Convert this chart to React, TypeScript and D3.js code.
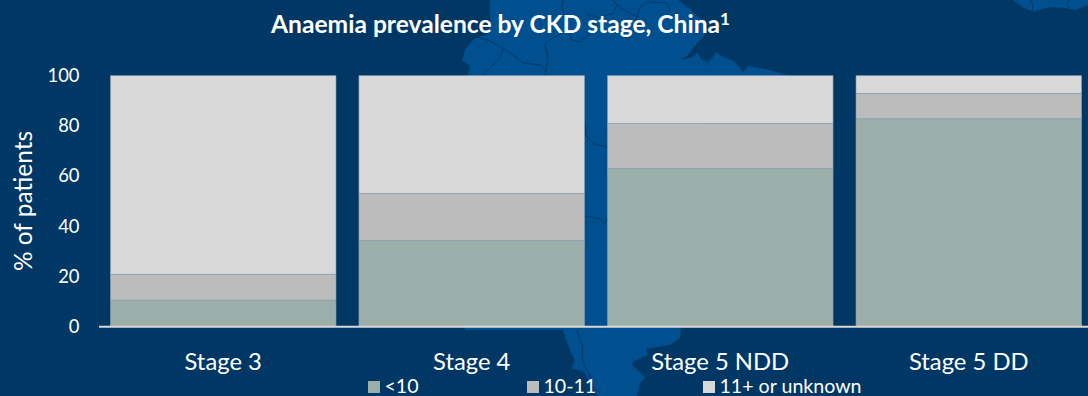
import React from "react";
import * as d3 from "d3";

const categories = ["Stage 3", "Stage 4", "Stage 5 NDD", "Stage 5 DD"];
const seriesNames = ["<10", "10-11", "11+ or unknown"];
const under10 = [10.5, 34.3, 63, 82.8];
const from10to11 = [10.3, 18.7, 18, 10.2];
const over11 = [79.2, 47, 19, 7];
const yTicks = [0, 20, 40, 60, 80, 100];
const colors = ["#9CAEA9", "#BCBCBC", "#D8D8D8"];
const legendX = [368, 527, 703];

const WIDTH = 1088;
const HEIGHT = 396;
const FONT = "Lato, 'Noto Sans', sans-serif";

// Decorative map of the region behind the plot
const LAND = [
  "M490,0 L490,20 L488,34 L476,38 L470,43 L465,50 L462,60 L470,66 L469,72 L465,80 L465,330 L563,330",
  "L566,340 L570,350 L575,360 L572,368 L584,372 L590,382 L597,396 L637,396 L640,383 L645,378 L640,372 L632,365",
  "L634,361 L648,355 L646,349 L652,348 L670,345 L680,338 L681,326 L700,300 L700,76 L790,76 L770,70 L748,66",
  "L743,72 L735,62 L720,55 L712,49 L700,50 L703,37 L708,30 L700,18 L690,9 L678,0 Z",
].join(" ");
const BAY = "M703,37 L695,46 L688,55 L681,60 L692,57 L698,53 L702,60 L708,62 L704,68 L712,58 L716,52 L712,49 L700,50 Z";
const LAND_NE = "M1013,0 L1022,7 L1033,12 L1042,9 L1052,7 L1066,8 L1075,10 L1088,5 L1088,0 Z";
const BORDERS = [
  "M477,37 L490,41 L503,48 L510,53 L517,58 L523,63 L533,64 L540,65 L546,70 L545,76",
  "M503,48 L500,58 L490,68 L482,75",
  "M546,70 L548,58 L545,44 L553,38 L567,30",
  "M563,0 L562,7 L565,17 L567,30 L572,40 L580,42 L588,35 L597,28 L587,14 L600,18 L613,13 L617,5 L613,0",
  "M617,5 L625,10 L637,17 L640,7 L647,2 L667,3 L670,10",
  "M637,17 L635,28 L630,37 L623,37",
  "M585,122 L586,135 L590,140 L593,143 L597,145 L605,146 L607,148",
  "M585,218 L587,216 L600,219 L603,222 L605,224 L607,217",
  "M577,330 L580,340 L583,347 L582,357 L585,367 L590,375 L593,387 L600,393",
  "M1032,12 L1033,5 L1030,0",
  "M1069,8 L1067,3 L1069,0",
];

export default function App() {
  const x = d3.scaleBand<string>().domain(categories).range([99, 1093]).paddingInner(0.0925).paddingOuter(0.046);
  const y = d3.scaleLinear().domain([0, 100]).range([326.3, 75.7]);
  const rows = categories.map((c, i) => ({ c, s0: under10[i], s1: from10to11[i], s2: over11[i] }));
  const stacked = d3.stack<any>().keys(["s0", "s1", "s2"])(rows);

  return (
    <svg
      width={WIDTH}
      height={HEIGHT}
      viewBox={`0 0 ${WIDTH} ${HEIGHT}`}
      style={{ position: "absolute", left: 0, top: 0, display: "block" }}
      fontFamily={FONT}
    >
      <rect width={WIDTH} height={HEIGHT} fill="#003764" />
      <g>
        <path d={LAND} fill="#00508F" />
        <path d={BAY} fill="#003764" />
        <path d={LAND_NE} fill="#00508F" />
        {BORDERS.map((d, i) => (
          <path key={i} d={d} fill="none" stroke="#003764" strokeWidth={1} />
        ))}
      </g>

      <text x={500.5} y={33} textAnchor="middle" fill="#fff" fontSize={24.6} fontWeight={700}>
        Anaemia prevalence by CKD stage, China
        <tspan fontSize={17} dy={-8}>1</tspan>
      </text>

      {stacked.map((layer, li) =>
        layer.map((d, i) => (
          <rect
            key={`${li}-${i}`}
            x={x(categories[i])}
            y={y(d[1])}
            width={x.bandwidth()}
            height={y(d[0]) - y(d[1])}
            fill={colors[li]}
            stroke="#8CA0B3"
            strokeWidth={0.6}
          />
        )),
      )}

      <line x1={99} x2={WIDTH} y1={326.8} y2={326.8} stroke="#D9D9D9" strokeWidth={2} />

      {yTicks.map((t) => (
        <text key={t} x={79.5} y={y(t)} dy="0.35em" textAnchor="end" fill="#fff" fontSize={18.4}>
          {t}
        </text>
      ))}

      <text
        transform="translate(32,201) rotate(-90)"
        textAnchor="middle"
        fill="#fff"
        fontSize={24.4}
      >
        % of patients
      </text>

      {categories.map((c) => (
        <text
          key={c}
          x={(x(c) as number) + x.bandwidth() / 2}
          y={370}
          textAnchor="middle"
          fill="#fff"
          fontSize={23.8}
        >
          {c}
        </text>
      ))}

      {seriesNames.map((name, i) => (
        <g key={name}>
          <rect x={legendX[i]} y={381} width={12} height={12} fill={colors[i]} />
          <text x={legendX[i] + 16.5} y={392.5} fill="#fff" fontSize={19.6}>
            {name}
          </text>
        </g>
      ))}
    </svg>
  );
}
